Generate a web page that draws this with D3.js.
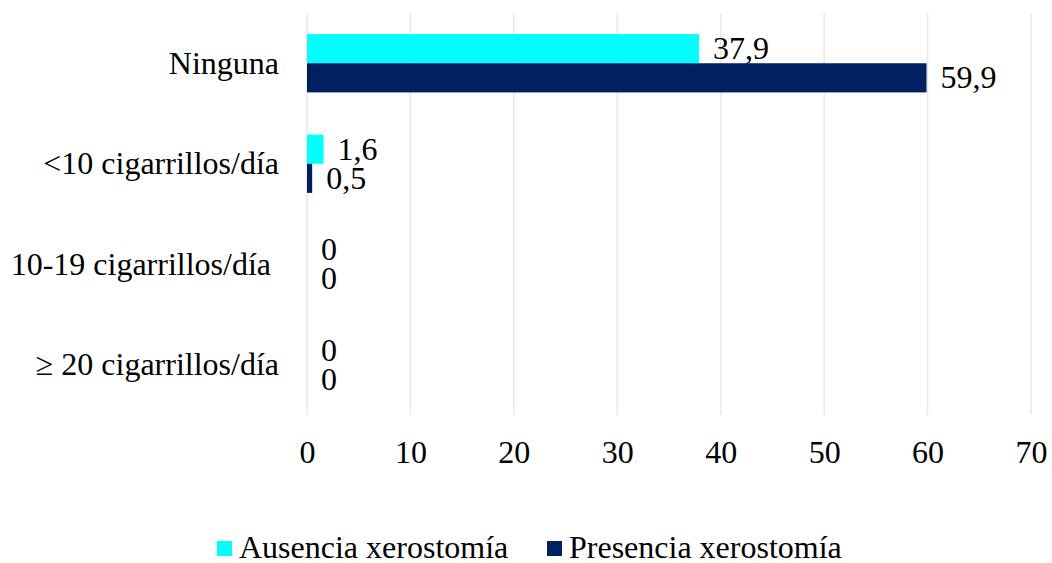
<!DOCTYPE html>
<html>
<head>
<meta charset="utf-8">
<script src="https://cdn.jsdelivr.net/npm/d3@7/dist/d3.min.js"></script>
<style>
  body { margin: 0; background: #fff; }
</style>
</head>
<body>
<svg id="chart"></svg>
<script>
/* data */
var categories = ["Ninguna", "<10 cigarrillos/día", "10-19 cigarrillos/día ", "\u2265 20 cigarrillos/día"];
var seriesNames = ["Ausencia xerostomía", "Presencia xerostomía"];
var ausencia = [37.9, 1.6, 0, 0];
var presencia = [59.9, 0.5, 0, 0];
var valueLabels = [["37,9", "1,6", "0", "0"], ["59,9", "0,5", "0", "0"]];
var xTicks = [0, 10, 20, 30, 40, 50, 60, 70];
var colors = ["#00ffff", "#002060"];

var width = 1052, height = 563,
    margin = { top: 13, right: 21, bottom: 148, left: 307 },
    fontSize = 32,
    fontFamily = "Liberation Serif";

var innerWidth = width - margin.left - margin.right,
    innerHeight = height - margin.top - margin.bottom;

var svg = d3.select("#chart")
    .attr("width", width)
    .attr("height", height);

var g = svg.append("g")
    .attr("transform", "translate(" + margin.left + "," + margin.top + ")");

/* scales */
var xScale = d3.scaleLinear().domain([0, 70]).range([0, innerWidth]);
var yScale = d3.scaleBand().domain(categories).range([0, innerHeight]).paddingInner(0.42).paddingOuter(0.21);
var ySub = d3.scaleBand().domain([0, 1]).range([0, yScale.bandwidth()]);

/* gridlines */
g.selectAll(".grid")
  .data(xTicks)
  .enter().append("line")
    .attr("class", "grid")
    .attr("x1", function(d) { return xScale(d); })
    .attr("x2", function(d) { return xScale(d); })
    .attr("y1", 0)
    .attr("y2", innerHeight)
    .attr("stroke", "#e8e8e8")
    .attr("stroke-width", 1.5);

/* x axis */
var xAxisG = g.append("g")
    .attr("transform", "translate(0," + innerHeight + ")")
    .call(d3.axisBottom(xScale).tickValues(xTicks).tickSize(0).tickFormat(d3.format("d")));
xAxisG.select(".domain").remove();
xAxisG.selectAll("text")
    .attr("y", 48)
    .attr("dy", 0)
    .attr("fill", "#000")
    .attr("font-family", fontFamily)
    .attr("font-size", fontSize);

/* y axis */
var yAxisG = g.append("g")
    .call(d3.axisLeft(yScale).tickSize(0).tickPadding(28));
yAxisG.select(".domain").remove();
yAxisG.selectAll("text")
    .style("white-space", "pre")
    .attr("fill", "#000")
    .attr("font-family", fontFamily)
    .attr("font-size", fontSize)
    .attr("dy", "0.33em");

/* bars */
var series = [ausencia, presencia];
series.forEach(function(values, s) {
  var grp = g.append("g").attr("class", "series-" + s);
  grp.selectAll("rect")
    .data(values)
    .enter().append("rect")
      .attr("x", xScale(0))
      .attr("y", function(d, i) { return yScale(categories[i]) + ySub(s); })
      .attr("width", function(d) { return xScale(d) - xScale(0); })
      .attr("height", ySub.bandwidth())
      .attr("fill", colors[s]);

  grp.selectAll("text")
    .data(values)
    .enter().append("text")
      .attr("x", function(d) { return xScale(d) + 14; })
      .attr("y", function(d, i) { return yScale(categories[i]) + ySub(s) + ySub.bandwidth() / 2; })
      .attr("dy", "0.33em")
      .attr("font-family", fontFamily)
      .attr("font-size", fontSize)
      .text(function(d, i) { return valueLabels[s][i]; });
});

/* legend */
var legend = svg.append("g").attr("transform", "translate(217,558)");
var legendX = [0, 330];
seriesNames.forEach(function(name, s) {
  var lg = legend.append("g").attr("transform", "translate(" + legendX[s] + ",0)");
  lg.append("rect")
    .attr("x", 0).attr("y", -17)
    .attr("width", 15).attr("height", 15)
    .attr("fill", colors[s]);
  lg.append("text")
    .attr("x", 22).attr("y", 0)
    .attr("font-family", fontFamily)
    .attr("font-size", fontSize)
    .text(name);
});
</script>
</body>
</html>
